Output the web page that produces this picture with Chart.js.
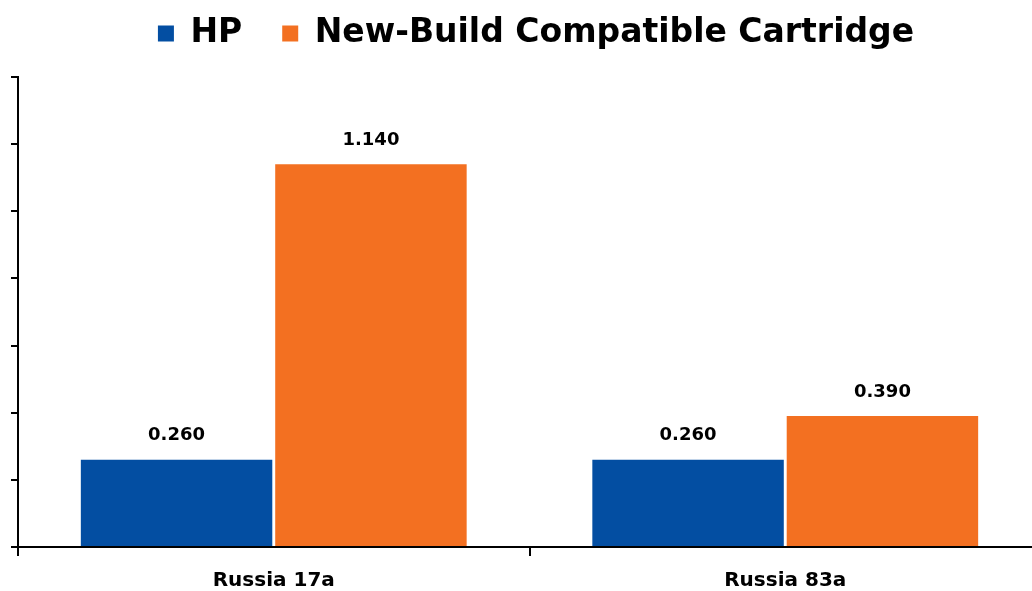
<!DOCTYPE html>
<html lang="en">
<head>
  <meta charset="UTF-8">
  <title>HP vs New-Build Compatible Cartridge</title>
  <style>
    html, body {
      margin: 0;
      padding: 0;
      overflow: hidden;
      background: #ffffff;
    }
    .chart-box {
      position: absolute;
      left: 0;
      top: 0;
      width: 1041px;
      height: 591px;
    }
  </style>
</head>
<body>
  <div class="chart-box">
    <canvas id="cartChart"></canvas>
  </div>

  <script src="https://cdn.jsdelivr.net/npm/chart.js"></script>
  <script>
    const categories = ['Russia 17a', 'Russia 83a'];
    const hpValues = [0.260, 0.260];
    const newBuildValues = [1.140, 0.390];
    const seriesNames = ['HP', 'New-Build Compatible Cartridge'];

    const fontFamily = '"DejaVu Sans", Arial, sans-serif';

    // draws the value above each bar
    const valueLabels = {
      id: 'valueLabels',
      afterDatasetsDraw(chart) {
        const c = chart.ctx;
        c.save();
        c.font = 'bold 18px ' + fontFamily;
        c.fillStyle = '#000000';
        c.textAlign = 'center';
        c.textBaseline = 'bottom';
        chart.data.datasets.forEach((ds, i) => {
          chart.getDatasetMeta(i).data.forEach((bar, j) => {
            c.fillText(ds.data[j].toFixed(3), bar.x, bar.y - 15);
          });
        });
        c.restore();
      }
    };

    // fixed legend height so the plot starts where the original does,
    // and nudge the legend a bit to the right
    const legendHeight = {
      id: 'legendHeight',
      beforeInit(chart) {
        const fit = chart.legend.fit;
        chart.legend.fit = function () {
          fit.bind(chart.legend)();
          this.height = 100;
        };
      },
      afterLayout(chart) {
        chart.legend.left += 10;
        chart.legend.right += 10;
      }
    };

    new Chart(document.getElementById('cartChart'), {
      type: 'bar',
      data: {
        labels: categories,
        datasets: [
          {
            label: seriesNames[0],
            data: hpValues,
            backgroundColor: '#034EA2'
          },
          {
            label: seriesNames[1],
            data: newBuildValues,
            backgroundColor: '#F37021'
          }
        ]
      },
      options: {
        responsive: true,
        maintainAspectRatio: false,
        animation: false,
        categoryPercentage: 0.76,
        barPercentage: 0.985,
        layout: {
          padding: { left: 11, right: 0, top: -23, bottom: -15 }
        },
        plugins: {
          legend: {
            position: 'top',
            labels: {
              boxWidth: 16,
              boxHeight: 16,
              padding: 40,
              color: '#000000',
              font: { family: fontFamily, size: 33, weight: 'bold' }
            }
          },
          tooltip: { enabled: false }
        },
        scales: {
          x: {
            border: { display: true, color: '#000000', width: 2 },
            grid: {
              drawOnChartArea: false,
              color: '#000000',
              lineWidth: 2,
              tickLength: 9
            },
            ticks: {
              color: '#000000',
              padding: 13,
              font: { family: fontFamily, size: 20, weight: 'bold' }
            }
          },
          y: {
            min: 0,
            max: 1.4,
            border: { display: true, color: '#000000', width: 2 },
            grid: {
              drawOnChartArea: false,
              color: '#000000',
              lineWidth: 2,
              tickLength: 7
            },
            ticks: {
              display: false,
              stepSize: 0.2
            }
          }
        }
      },
      plugins: [valueLabels, legendHeight]
    });
  </script>
</body>
</html>
